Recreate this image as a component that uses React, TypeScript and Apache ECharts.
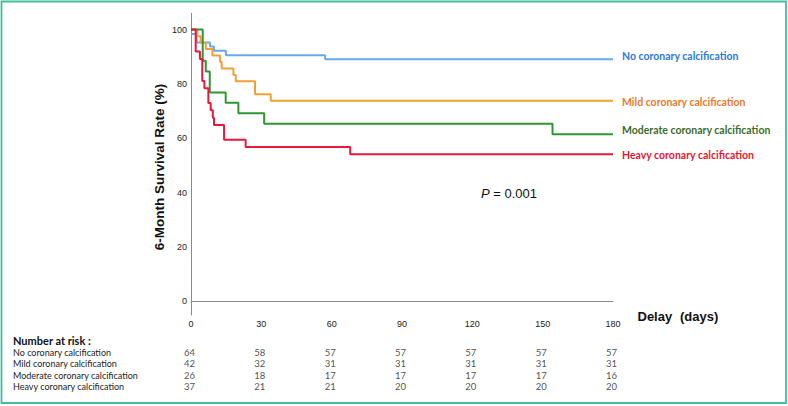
import React, { useEffect, useRef } from 'react';
import * as echarts from 'echarts';

const groupNames = [
  'No coronary calcification',
  'Mild coronary calcification',
  'Moderate coronary calcification',
  'Heavy coronary calcification',
];
const lineColors = ['#6AA7F2', '#F0A035', '#2E9632', '#E8183D'];
const labelColors = ['#2B7BD6', '#E8792A', '#3B6B2C', '#E5142F'];

// Kaplan-Meier steps: day at which survival changes, survival (%) from that day
const noDays = [0, 2.4, 8.1, 9.8, 14.9, 57.2, 180];
const noSurv = [98.4, 95.3, 93.8, 92.2, 90.6, 89.1, 89.1];
const mildDays = [0, 2.7, 4.1, 6.3, 9.1, 12.4, 13.1, 18.1, 19.1, 27.3, 34, 180];
const mildSurv = [100, 97.6, 95.2, 92.9, 90.5, 88.1, 85.7, 83.3, 81.0, 76.2, 73.8, 73.8];
const modDays = [0, 5.0, 6.3, 8.0, 14.8, 20.2, 31.2, 154.2, 180];
const modSurv = [100, 88.5, 84.6, 76.9, 73.1, 69.2, 65.4, 61.5, 61.5];
const heavyDays = [0, 2.0, 3.8, 4.8, 5.7, 7.4, 8.4, 9.3, 9.8, 14.1, 23.3, 67.9, 180];
const heavySurv = [100, 91.9, 89.2, 81.1, 78.4, 73.0, 70.3, 67.6, 64.9, 59.5, 56.8, 54.1, 54.1];

const yTicks = [0, 20, 40, 60, 80, 100];
const riskDays = [0, 30, 60, 90, 120, 150, 180];
const riskNo = [64, 58, 57, 57, 57, 57, 57];
const riskMild = [42, 32, 31, 31, 31, 31, 31];
const riskMod = [26, 18, 17, 17, 17, 17, 16];
const riskHeavy = [37, 21, 21, 20, 20, 20, 20];

const curveDays = [noDays, mildDays, modDays, heavyDays];
const curveSurv = [noSurv, mildSurv, modSurv, heavySurv];
const riskRows = [riskNo, riskMild, riskMod, riskHeavy];
const endLabelOffsets = [-3, 1, -4, 0.5];

export default function App() {
  const ref = useRef<HTMLDivElement>(null);
  useEffect(() => {
    document.body.style.margin = '0';
    const chart = echarts.init(ref.current!, null, { renderer: 'svg' });
    const lineSeries = groupNames.map((name, gi) => ({
      type: 'line',
      name,
      xAxisIndex: 0,
      yAxisIndex: 0,
      step: 'end',
      symbol: 'none',
      data: curveDays[gi].map((d, i) => [d, curveSurv[gi][i]]),
      lineStyle: { color: lineColors[gi], width: 2 },
      itemStyle: { color: lineColors[gi] },
      endLabel: {
        show: true,
        formatter: name,
        distance: 9,
        offset: [0, endLabelOffsets[gi]],
        color: labelColors[gi],
        fontFamily: 'Lato',
        fontWeight: 'bold',
        fontSize: 10.5,
      },
      z: 3,
    }));
    const riskSeries = {
      type: 'scatter',
      xAxisIndex: 1,
      yAxisIndex: 1,
      symbolSize: 0,
      data: riskRows.flatMap((row, ri) => row.map((n, i) => [riskDays[i], ri, n])),
      label: {
        show: true,
        position: 'inside',
        offset: [-1.5, 0],
        formatter: (p: any) => String(p.value[2]),
        color: '#222',
        fontFamily: 'Lato',
        fontSize: 9.5,
      },
    };
    chart.setOption({
      animation: false,
      backgroundColor: '#fff',
      grid: [
        { left: 191, top: 13.3, width: 422, height: 301.7 },
        { left: 191, top: 346.6, width: 422, height: 46 },
      ],
      xAxis: [
        {
          gridIndex: 0,
          type: 'value',
          min: 0,
          max: 180,
          interval: 30,
          axisLine: { lineStyle: { color: '#8a8a8a', width: 1 } },
          axisTick: { show: false },
          splitLine: { show: false },
          axisLabel: { fontSize: 9, color: '#222', margin: 4, fontFamily: 'Liberation Sans' },
        },
        { gridIndex: 1, type: 'value', min: 0, max: 180, show: false },
      ],
      yAxis: [
        {
          gridIndex: 0,
          type: 'value',
          min: -5,
          max: 106,
          axisLine: { show: true, lineStyle: { color: '#8a8a8a', width: 1 } },
          axisTick: { show: false },
          splitLine: { show: false },
          axisLabel: {
            customValues: yTicks,
            fontSize: 9,
            color: '#222',
            margin: 4,
            fontFamily: 'Liberation Sans',
          },
        },
        {
          gridIndex: 1,
          type: 'category',
          data: groupNames,
          inverse: true,
          axisLine: { show: false },
          axisTick: { show: false },
          splitLine: { show: false },
          axisLabel: {
            interval: 0,
            align: 'left',
            margin: 178,
            fontSize: 9,
            color: '#222',
            fontFamily: 'Lato',
          },
        },
      ],
      series: [...lineSeries, riskSeries],
      graphic: [
        {
          type: 'rect',
          shape: { x: 1.5, y: 1.5, width: 784.5, height: 401.5 },
          style: { fill: 'none', stroke: '#3FBF9D', lineWidth: 1.8 },
          silent: true,
        },
        {
          type: 'text',
          x: 159.5,
          y: 167,
          rotation: Math.PI / 2,
          style: {
            text: '6-Month Survival Rate (%)',
            fontFamily: 'Liberation Sans',
            fontWeight: 'bold',
            fontSize: 13.5,
            fill: '#111',
            align: 'center',
            verticalAlign: 'middle',
          },
        },
        {
          type: 'text',
          x: 481,
          y: 193.5,
          style: {
            text: '{i|P} = 0.001',
            rich: {
              i: { fontStyle: 'italic', fontFamily: 'Liberation Sans', fontSize: 13, fill: '#111' },
            },
            fontFamily: 'Liberation Sans',
            fontSize: 13,
            fill: '#111',
            align: 'left',
            verticalAlign: 'middle',
          },
        },
        {
          type: 'text',
          x: 637.5,
          y: 316,
          style: {
            text: 'Delay',
            fontFamily: 'Liberation Sans',
            fontWeight: 'bold',
            fontSize: 13,
            fill: '#111',
            align: 'left',
            verticalAlign: 'middle',
          },
        },
        {
          type: 'text',
          x: 680,
          y: 316,
          style: {
            text: '(days)',
            fontFamily: 'Liberation Sans',
            fontWeight: 'bold',
            fontSize: 13,
            fill: '#111',
            align: 'left',
            verticalAlign: 'middle',
          },
        },
        {
          type: 'text',
          x: 13,
          y: 340.5,
          style: {
            text: 'Number at risk :',
            fontFamily: 'Lato',
            fontWeight: 'bold',
            fontSize: 11,
            fill: '#111',
            align: 'left',
            verticalAlign: 'middle',
          },
        },
      ],
    });
    return () => chart.dispose();
  }, []);
  return <div ref={ref} style={{ width: 788, height: 406 }} />;
}
